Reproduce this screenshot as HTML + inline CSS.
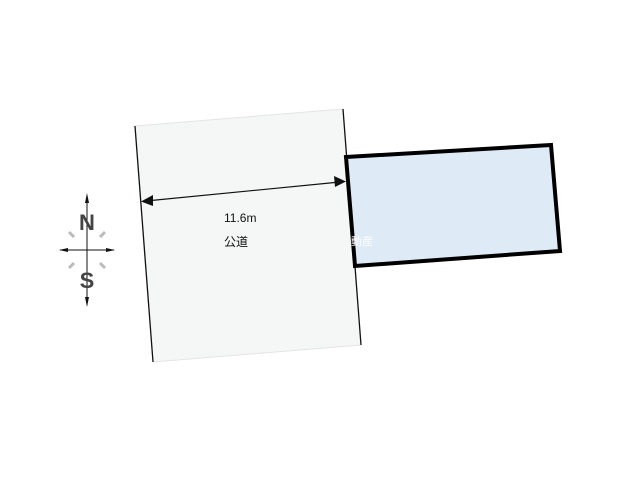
<!DOCTYPE html>
<html><head><meta charset="utf-8"><style>body{margin:0;background:#fff}svg{display:block}</style></head><body>
<svg width="640" height="480" viewBox="0 0 640 480" xmlns="http://www.w3.org/2000/svg">
<polygon points="135,126 343,109 361,345 153,362" fill="#f5f7f6" stroke="#e4e4e4" stroke-width="1"/>
<line x1="135" y1="126" x2="153" y2="362" stroke="#111" stroke-width="1.3"/>
<line x1="343" y1="109" x2="361" y2="345" stroke="#111" stroke-width="1.3"/>
<polygon points="346,157 551,145 560,251 355,266" fill="#deebf7" stroke="#000" stroke-width="4"/>
<text x="351" y="245" font-family="Liberation Sans,'Noto Sans CJK JP',sans-serif" font-size="11" fill="#fff">動産</text>
<line x1="146" y1="201" x2="340" y2="182" stroke="#111" stroke-width="1.2"/>
<polygon points="141,201.5 153,195 153,206" fill="#111"/>
<polygon points="346,181.5 334,176 335,187" fill="#111"/>
<text x="224" y="222" font-family="Liberation Sans,sans-serif" font-size="12" fill="#111">11.6m</text>
<text x="224" y="246" font-family="Liberation Sans,'Noto Sans CJK JP',sans-serif" font-size="12" fill="#111">公道</text>
<g stroke="#111" stroke-width="1">
<line x1="87" y1="196" x2="87" y2="305"/>
<line x1="60" y1="250" x2="114" y2="250"/>
</g>
<polygon points="87,193 85,203 89,203" fill="#111"/>
<polygon points="87,307 85,297 89,297" fill="#111"/>
<polygon points="59,250 68,248 68,252" fill="#111"/>
<polygon points="115,250 106,248 106,252" fill="#111"/>
<g stroke="#bbb" stroke-width="3">
<line x1="69" y1="232" x2="74" y2="237"/><line x1="105" y1="232" x2="100" y2="237"/>
<line x1="69" y1="268" x2="74" y2="263"/><line x1="105" y1="268" x2="100" y2="263"/>
</g>
<text x="87" y="230" text-anchor="middle" font-family="Liberation Sans,sans-serif" font-weight="bold" font-size="22" fill="#444">N</text>
<text x="87" y="288" text-anchor="middle" font-family="Liberation Sans,sans-serif" font-weight="bold" font-size="22" fill="#444">S</text>
</svg>
</body></html>
